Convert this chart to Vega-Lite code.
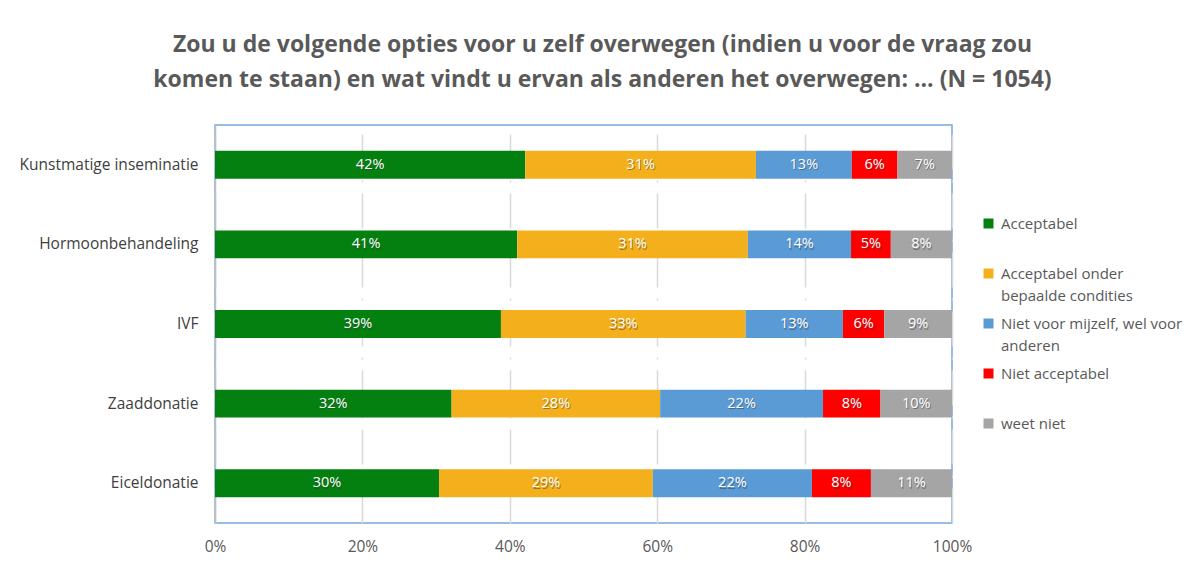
{
  "$schema": "https://vega.github.io/schema/vega-lite/v6.json",
  "width": 737,
  "height": 398,
  "autosize": {"type": "none"},
  "padding": {"left": 215, "top": 125, "right": 237, "bottom": 50},
  "background": "white",
  "title": {
    "text": ["Zou u de volgende opties voor u zelf overwegen (indien u voor de vraag zou", "komen te staan) en wat vindt u ervan als anderen het overwegen: ... (N = 1054)"],
    "font": "Open Sans",
    "fontSize": 23,
    "fontWeight": "bold",
    "color": "#595959",
    "lineHeight": 35,
    "anchor": "middle",
    "frame": "group",
    "dx": 19,
    "offset": 33
  },
  "config": {
    "view": {"stroke": "#7AA7DA", "strokeWidth": 1.5},
    "font": "Open Sans",
    "style": {"guide-label": {"lineHeight": 22}}
  },
  "data": {
    "values": [
      {"item": "Kunstmatige inseminatie", "cat": "Acceptabel", "k": 1, "value": 42.1},
      {"item": "Kunstmatige inseminatie", "cat": "Acceptabel onder bepaalde condities", "k": 2, "value": 31.3},
      {"item": "Kunstmatige inseminatie", "cat": "Niet voor mijzelf, wel voor anderen", "k": 3, "value": 13.0},
      {"item": "Kunstmatige inseminatie", "cat": "Niet acceptabel", "k": 4, "value": 6.2},
      {"item": "Kunstmatige inseminatie", "cat": "weet niet", "k": 5, "value": 7.4},
      {"item": "Hormoonbehandeling", "cat": "Acceptabel", "k": 1, "value": 41.0},
      {"item": "Hormoonbehandeling", "cat": "Acceptabel onder bepaalde condities", "k": 2, "value": 31.3},
      {"item": "Hormoonbehandeling", "cat": "Niet voor mijzelf, wel voor anderen", "k": 3, "value": 14.0},
      {"item": "Hormoonbehandeling", "cat": "Niet acceptabel", "k": 4, "value": 5.4},
      {"item": "Hormoonbehandeling", "cat": "weet niet", "k": 5, "value": 8.3},
      {"item": "IVF", "cat": "Acceptabel", "k": 1, "value": 38.8},
      {"item": "IVF", "cat": "Acceptabel onder bepaalde condities", "k": 2, "value": 33.2},
      {"item": "IVF", "cat": "Niet voor mijzelf, wel voor anderen", "k": 3, "value": 13.2},
      {"item": "IVF", "cat": "Niet acceptabel", "k": 4, "value": 5.6},
      {"item": "IVF", "cat": "weet niet", "k": 5, "value": 9.2},
      {"item": "Zaaddonatie", "cat": "Acceptabel", "k": 1, "value": 32.1},
      {"item": "Zaaddonatie", "cat": "Acceptabel onder bepaalde condities", "k": 2, "value": 28.3},
      {"item": "Zaaddonatie", "cat": "Niet voor mijzelf, wel voor anderen", "k": 3, "value": 22.1},
      {"item": "Zaaddonatie", "cat": "Niet acceptabel", "k": 4, "value": 7.8},
      {"item": "Zaaddonatie", "cat": "weet niet", "k": 5, "value": 9.7},
      {"item": "Eiceldonatie", "cat": "Acceptabel", "k": 1, "value": 30.4},
      {"item": "Eiceldonatie", "cat": "Acceptabel onder bepaalde condities", "k": 2, "value": 29.0},
      {"item": "Eiceldonatie", "cat": "Niet voor mijzelf, wel voor anderen", "k": 3, "value": 21.6},
      {"item": "Eiceldonatie", "cat": "Niet acceptabel", "k": 4, "value": 8.0},
      {"item": "Eiceldonatie", "cat": "weet niet", "k": 5, "value": 11.0}
    ]
  },
  "transform": [
    {"stack": "value", "groupby": ["item"], "sort": [{"field": "k", "order": "ascending"}], "as": ["v0", "v1"]},
    {"calculate": "(datum.v0 + datum.v1) / 2", "as": "mid"},
    {"calculate": "format(datum.value, '.0f') + '%'", "as": "lbl"}
  ],
  "encoding": {
    "y": {
      "field": "item",
      "type": "nominal",
      "sort": null,
      "title": null,
      "scale": {"paddingInner": 0.65, "paddingOuter": 0.325},
      "axis": {
        "ticks": false,
        "domainColor": "#BFBFBF",
        "domainWidth": 1.5,
        "labelFont": "Open Sans",
        "labelFontSize": 15.5,
        "labelColor": "#404040",
        "labelPadding": 17,
        "labelLimit": 300
      }
    }
  },
  "layer": [
    {
      "mark": {"type": "bar", "cornerRadius": 0},
      "encoding": {
        "x": {
          "field": "v0",
          "type": "quantitative",
          "scale": {"domain": [0, 100], "nice": false},
          "title": null,
          "axis": {
            "values": [0, 20, 40, 60, 80, 100],
            "labelExpr": "datum.value + '%'",
            "labelFlush": false,
            "ticks": false,
            "domain": false,
            "grid": true,
            "gridColor": "#D9D9D9",
            "gridWidth": 1.5,
            "gridDash": [35, 11, 2, 11],
            "labelFont": "Open Sans",
            "labelFontSize": 15.5,
            "labelColor": "#595959",
            "labelPadding": 16
          }
        },
        "x2": {"field": "v1"},
        "color": {
          "field": "cat",
          "type": "nominal",
          "scale": {
            "domain": ["Acceptabel", "Acceptabel onder bepaalde condities", "Niet voor mijzelf, wel voor anderen", "Niet acceptabel", "weet niet"],
            "range": ["#048010", "#F4B01C", "#5B9BD5", "#FF0000", "#A5A5A5"]
          },
          "legend": {
            "title": null,
            "orient": "none",
            "legendX": 766,
            "legendY": 91,
            "symbolType": "square",
            "symbolSize": 100,
            "symbolStrokeWidth": 0,
            "labelOffset": 5,
            "labelFont": "Open Sans",
            "labelFontSize": 15,
            "labelColor": "#595959",
            "labelLimit": 300,
            "gridAlign": "all",
            "rowPadding": 12,
            "labelExpr": "datum.label == 'Acceptabel onder bepaalde condities' ? ['Acceptabel onder', 'bepaalde condities'] : datum.label == 'Niet voor mijzelf, wel voor anderen' ? ['Niet voor mijzelf, wel voor', 'anderen'] : datum.label"
          }
        }
      }
    },
    {
      "mark": {"type": "text", "fill": "#333333", "opacity": 0.45, "dx": 1, "dy": 1.5, "font": "Open Sans", "fontSize": 14.5},
      "encoding": {
        "x": {"field": "mid", "type": "quantitative"},
        "text": {"field": "lbl", "type": "nominal"}
      }
    },
    {
      "mark": {"type": "text", "fill": "white", "font": "Open Sans", "fontSize": 14.5},
      "encoding": {
        "x": {"field": "mid", "type": "quantitative"},
        "text": {"field": "lbl", "type": "nominal"}
      }
    }
  ]
}
